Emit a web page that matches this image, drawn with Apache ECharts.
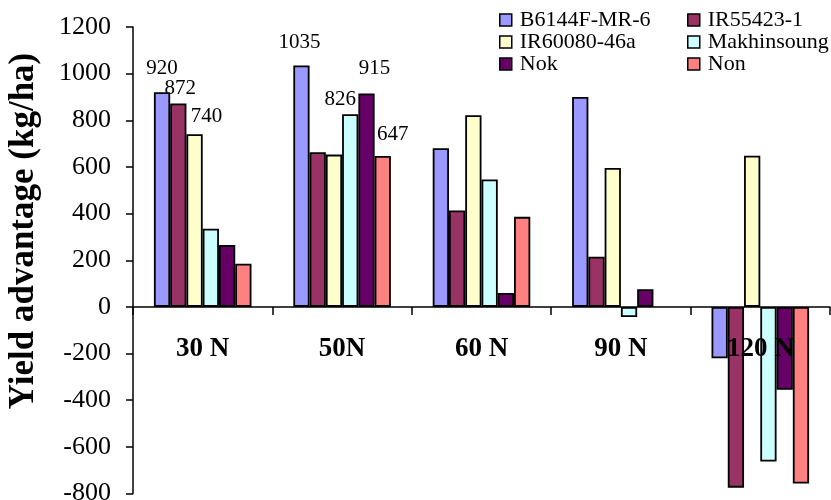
<!DOCTYPE html>
<html>
<head>
<meta charset="utf-8">
<script src="https://cdn.jsdelivr.net/npm/echarts@6/dist/echarts.min.js"></script>
<style>
  html, body { margin: 0; padding: 0; background: #fff; }
  #chart { width: 831px; height: 500px; }
</style>
</head>
<body>
<div id="chart"></div>
<script>
// Nitrogen levels (x categories)
const categories = ['30 N', '50N', '60 N', '90 N', '120 N'];

// Yield advantage (kg/ha) per variety at each nitrogen level
const seriesNames = ['B6144F-MR-6', 'IR55423-1', 'IR60080-46a', 'Makhinsoung', 'Nok', 'Non'];
const b6144f      = [920, 1035, 680, 900, -220];
const ir55423     = [872, 663, 413, 215, -775];
const ir60080     = [740, 653, 822, 596, 648];
const makhinsoung = [335, 826, 546, -43, -663];
const nok         = [265, 915, 60, 76, -355];
const non         = [185, 647, 386, null, -757];

// Y axis ticks
const yMin = -800, yMax = 1200, yStep = 200;

// Values that carry a printed label: [seriesIndex, categoryIndex]
const labelled = [[0, 0], [1, 0], [2, 0], [0, 1], [3, 1], [4, 1], [5, 1]];

const values = [b6144f, ir55423, ir60080, makhinsoung, nok, non];
const colors = ['#9999FF', '#993366', '#FFFFCC', '#CCFFFF', '#660066', '#FF8080'];

// Small nudges for the printed value labels (pixels)
const labelNudge = {
  '0,0': [0, -8], '1,0': [2, 0], '2,0': [12, -2],
  '0,1': [-2, -8], '3,1': [-10, 1], '4,1': [8, -9], '5,1': [10, -6]
};

const serif = 'Liberation Serif, Times New Roman, serif';

// Plot area
const W = 831, H = 500;
const gridTop = 27, gridBottom = 6.5;
const plotH = H - gridTop - gridBottom;
// Distance of the zero line above the bottom edge of the plot
const zeroLift = plotH * (0 - yMin) / (yMax - yMin);

const series = values.map((vals, si) => ({
  name: seriesNames[si],
  type: 'bar',
  barGap: '0%',
  barCategoryGap: '30%',
  itemStyle: { color: colors[si], borderColor: '#000', borderWidth: 1.8 },
  data: vals.map((v, ci) => {
    const key = si + ',' + ci;
    const item = { value: v };
    if (labelled.some(p => p[0] === si && p[1] === ci)) {
      item.label = {
        show: true,
        position: 'top',
        distance: 5,
        offset: labelNudge[key] || [0, 0],
        color: '#000',
        fontFamily: serif,
        fontSize: 21
      };
    }
    return item;
  })
}));

const legendCommon = {
  orient: 'vertical',
  top: 9,
  itemWidth: 12,
  itemHeight: 12,
  itemGap: 0,
  padding: 0,
  icon: 'rect',
  selectedMode: false,
  itemStyle: { borderColor: '#000', borderWidth: 1.5 },
  textStyle: { fontFamily: serif, fontSize: 22, lineHeight: 20, color: '#000', padding: [0, 0, 0, 3] }
};

const chart = echarts.init(document.getElementById('chart'), null, { renderer: 'canvas' });
chart.setOption({
  animation: false,
  backgroundColor: '#fff',
  grid: {
    left: 133, right: 1, top: gridTop, bottom: gridBottom,
    containLabel: false, outerBoundsMode: 'none'
  },
  legend: [
    Object.assign({}, legendCommon, { left: 499, data: [seriesNames[0], seriesNames[2], seriesNames[4]] }),
    Object.assign({}, legendCommon, { left: 687, data: [seriesNames[1], seriesNames[3], seriesNames[5]] })
  ],
  xAxis: [{
    // axis line and ticks along the zero line
    type: 'category',
    data: categories,
    axisLine: { onZero: true, lineStyle: { color: '#000', width: 1.5 } },
    axisTick: { show: true, length: 8, lineStyle: { color: '#000', width: 1.5 } },
    axisLabel: { show: false },
    splitLine: { show: false }
  }, {
    // category names just under the zero line, drawn above the bars
    type: 'category',
    data: categories,
    position: 'bottom',
    offset: -zeroLift,
    z: 10,
    axisLine: { show: false },
    axisTick: { show: false },
    axisLabel: {
      color: '#000', fontFamily: serif, fontSize: 27, fontWeight: 'bold', margin: 29
    },
    splitLine: { show: false }
  }],
  yAxis: {
    type: 'value',
    min: yMin,
    max: yMax,
    interval: yStep,
    axisLine: { show: true, lineStyle: { color: '#000', width: 1.5 } },
    axisTick: { show: true, length: 7, lineStyle: { color: '#000', width: 1.5 } },
    axisLabel: {
      color: '#000', fontFamily: serif, fontSize: 26, margin: 22,
      formatter: v => String(v)
    },
    splitLine: { show: false }
  },
  graphic: [{
    type: 'text',
    x: 24,
    y: 231,
    rotation: Math.PI / 2,
    style: {
      text: 'Yield advantage (kg/ha)',
      font: 'bold 35px ' + serif,
      fill: '#000',
      textAlign: 'center',
      textVerticalAlign: 'middle'
    }
  }],
  series: series
});
</script>
</body>
</html>
